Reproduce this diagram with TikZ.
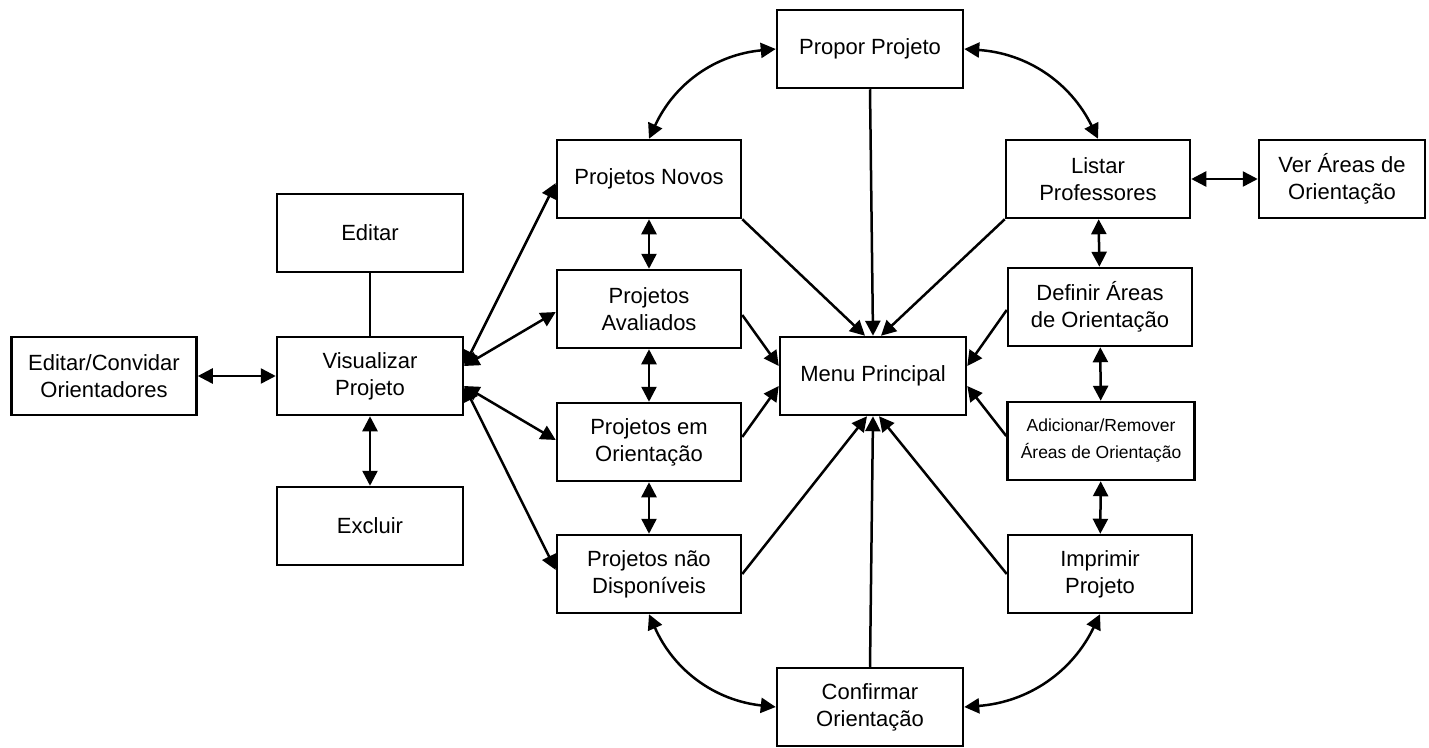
\documentclass[tikz,border=0pt]{standalone}
\usepackage{fontspec}
\setmainfont{Liberation Sans}
\usetikzlibrary{arrows.meta}

\tikzset{
  caixa/.style={draw,line width=2.5pt,minimum width=186pt,minimum height=78pt,
    align=center,inner sep=2pt,font=\fontsize{22}{27}\selectfont},
  linha/.style={line width=2.5pt},
  seta/.style={linha,-{Triangle[length=15pt,width=15pt]}},
  seta2/.style={linha,{Triangle[length=15pt,width=15pt]}-{Triangle[length=15pt,width=15pt]}}
}

\begin{document}
\begin{tikzpicture}[x=1pt,y=-1pt]
\useasboundingbox (0,0) rectangle (1429,747);

\node[caixa] (menu) at (873,376) {Menu Principal};
\node[caixa] (propor) at (870,49) {Propor Projeto};
\node[caixa] (confirmar) at (870,707) {Confirmar\\Orientação};

\node[caixa,minimum width=184pt] (novos) at (649,179) {Projetos Novos};
\node[caixa,minimum width=184pt] (avaliados) at (649,309) {Projetos\\Avaliados};
\node[caixa,minimum width=184pt] (emorient) at (649,442) {Projetos em\\Orientação};
\node[caixa,minimum width=184pt] (naodisp) at (649,574) {Projetos não\\Disponíveis};

\node[caixa,minimum width=184pt] (listar) at (1098,179) {Listar\\Professores};
\node[caixa,minimum width=166pt] (verareas) at (1342,179) {Ver Áreas de\\Orientação};
\node[caixa,minimum width=184pt] (definir) at (1100,307) {Definir Áreas\\de Orientação};
\node[caixa,minimum width=187pt,font=\fontsize{17.5}{27}\selectfont] (adicionar) at (1101,441) {Adicionar/Remover\\Áreas de Orientação};
\node[caixa,minimum width=184pt] (imprimir) at (1100,574) {Imprimir\\Projeto};

\node[caixa] (editar) at (370,233) {Editar};
\node[caixa] (visualizar) at (370,376) {Visualizar\\Projeto};
\node[caixa] (excluir) at (370,526) {Excluir};
\node[caixa,minimum width=185pt] (convidar) at (104,376) {Editar/Convidar\\Orientadores};

% curvas ligando os cantos
\draw[seta2] (propor.west) to[bend right=30] (novos.north);
\draw[seta2] (propor.east) to[bend left=30] (listar.north);
\draw[seta2] (confirmar.west) to[bend left=30] (naodisp.south);
\draw[seta2] (confirmar.east) to[bend right=30] (imprimir.south);

% tudo volta para o menu
\draw[seta] (propor.south) -- (menu.north);
\draw[seta] (novos.south east) -- ([xshift=-8pt]menu.north);
\draw[seta] (listar.south west) -- ([xshift=8pt]menu.north);
\draw[seta] ([yshift=-6pt]avaliados.east) -- ([yshift=10pt]menu.west);
\draw[seta] ([yshift=5pt]emorient.east) -- ([yshift=-10pt]menu.west);
\draw[seta] ([yshift=-3pt]definir.west) -- ([yshift=10pt]menu.east);
\draw[seta] ([yshift=5pt]adicionar.west) -- ([yshift=-10pt]menu.east);
\draw[seta] (naodisp.east) -- ([xshift=-6pt]menu.south);
\draw[seta] (confirmar.north) -- (menu.south);
\draw[seta] (imprimir.west) -- ([xshift=6pt]menu.south);

\foreach \a/\b in {novos/avaliados,avaliados/emorient,emorient/naodisp,
                   listar/definir,definir/adicionar,adicionar/imprimir}
  \draw[seta2] (\a) -- (\b);
\draw[seta2] (listar) -- (verareas);

% visualizar projeto
\draw[seta2] ([yshift=10pt]visualizar.east) -- ([yshift=-4pt]novos.west);
\draw[seta2] ([yshift=10pt]visualizar.east) -- ([yshift=-3pt]avaliados.west);
\draw[seta2] ([yshift=-10pt]visualizar.east) -- ([yshift=2pt]emorient.west);
\draw[seta2] ([yshift=-10pt]visualizar.east) -- ([yshift=4pt]naodisp.west);
\draw[linha] (editar) -- (visualizar);
\draw[seta2] (visualizar) -- (excluir);
\draw[seta2] (convidar) -- (visualizar);
\end{tikzpicture}
\end{document}
